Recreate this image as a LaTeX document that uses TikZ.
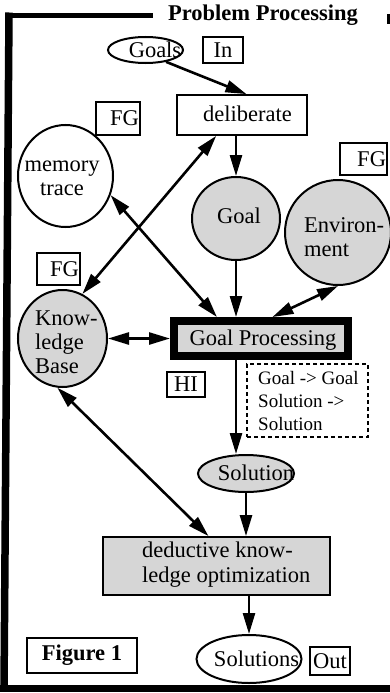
\documentclass[tikz,border=0pt]{standalone}
\usepackage{fontspec}
\setmainfont{Liberation Serif}
\usetikzlibrary{arrows.meta,shapes.geometric}
\begin{document}
\begin{tikzpicture}[x=1pt,y=-1pt,
  every node/.style={inner sep=0pt, font=\fontsize{22.5}{24}\selectfont},
  bigtip/.tip={Triangle[length=21pt,width=12pt]},
  sconn/.style={line width=2.6pt,-bigtip},
  dconn/.style={line width=2.6pt,bigtip-bigtip},
  dotfill/.style={fill=black!16},
  rbox/.style={draw, line width=1.8pt, rectangle},
  ebox/.style={draw, line width=2pt, ellipse},
  tagbox/.style={rbox, align=right, inner xsep=1pt},
  framel/.style={line cap=butt}
]
\fill[white] (0,0) rectangle (390,693);
\useasboundingbox (0,0) rectangle (390,693);

% frame
\draw[framel, line width=5pt] (5,15.5) -- (153,15.5);
\draw[framel, line width=7.5pt] (9,12.5) -- (4,690);
\draw[framel, line width=6.5pt] (0,688.5) -- (390,688.5);
\draw[framel, line width=2.5pt] (388.5,14) -- (388.5,24);

\node[font=\bfseries\fontsize{22.5}{24}\selectfont] (title) at (263,15) {Problem Processing};

% nodes
\node[ebox, minimum width=75, minimum height=26] (goals) at (145.5,50) {};
\node (goalsT) at (155,50) {Goals};
\node[rbox, minimum width=40, minimum height=26] (in) at (223,50) {In};

\node[rbox, minimum width=130, minimum height=40] (delib) at (242,115) {};
\node (delibT) at (247.5,114) {deliberate};

\node[tagbox, text width=42pt, minimum height=33] (fg1) at (118,118.5) {FG};
\node[tagbox, text width=45pt, minimum height=32] (fg2) at (363.5,159) {FG};
\node[tagbox, text width=41pt, minimum height=32] (fg3) at (58.5,269) {FG};

\node[ebox, minimum width=95, minimum height=102] (mem) at (65.5,176) {};
\node[align=center] (memT) at (62,178) {memory\\trace};

\node[ebox, dotfill, minimum width=88, minimum height=83] (goal) at (236,218.5) {};
\node (goalT) at (239,216) {Goal};

\node[ebox, dotfill, minimum width=106, minimum height=105] (env) at (338,232.5) {};
\node[align=left, anchor=west] (envT) at (304,237) {Environ-\\ment};

\node[ebox, dotfill, minimum width=89, minimum height=97] (kb) at (62.5,338.5) {};
\node[align=left, anchor=west] (kbT) at (35,342) {Know-\\ledge\\Base};

\node[draw, dotfill, line width=8pt, minimum width=174, minimum height=35] (gp) at (261,338.5) {};
\node (gpT) at (263,340) {Goal Processing};

\node[rbox, minimum width=38, minimum height=25] (hi) at (186,384.5) {HI};

\node[draw, line width=1.8pt, dash pattern=on 4pt off 3pt, minimum width=121, minimum height=73] (dash) at (307.5,400.5) {};
\node[align=left, anchor=west, font=\fontsize{19}{23}\selectfont] (dashT) at (258,400.5) {Goal -> Goal\\Solution ->\\Solution};

\node[ebox, dotfill, minimum width=96, minimum height=37] (sol) at (246,473.5) {};
\node (solT) at (256,473) {Solution};

\node[rbox, dotfill, minimum width=227, minimum height=58] (ded) at (216.5,566) {};
\node[align=left, anchor=west, font=\fontsize{22.5}{25}\selectfont] (dedT) at (142,565) {deductive know-\\ledge optimization};

\node[ebox, minimum width=105, minimum height=48] (sols) at (249,659) {};
\node (solsT) at (256.5,659) {Solutions};
\node[rbox, minimum width=40, minimum height=28] (out) at (330,661) {Out};
\node[rbox, minimum width=110, minimum height=35, font=\bfseries\fontsize{22.5}{24}\selectfont] (fig) at (82,655.5) {Figure 1};

% connectors
\draw[sconn] (goals.-30) -- (delib.78);
\draw[sconn] (goal.north |- delib.south) -- (goal.north);
\draw[dconn] (kb.66) -- (delib.219);
\draw[dconn] (mem.-23) -- (gp.154);
\draw[sconn] (goal.south) -- (goal.south |- gp.north);
\draw[dconn] (env.south) -- (gp.62);
\draw[dconn] (kb.east) -- (gp.west);
\draw[sconn] (goal.south |- gp.south) -- (goal.south |- sol.north);
\draw[dconn] (kb.-96) -- (ded.105);
\draw[sconn] (sol.south) -- (sol.south |- ded.north);
\draw[sconn] (sols.north |- ded.south) -- (sols.north);
\end{tikzpicture}
\end{document}
